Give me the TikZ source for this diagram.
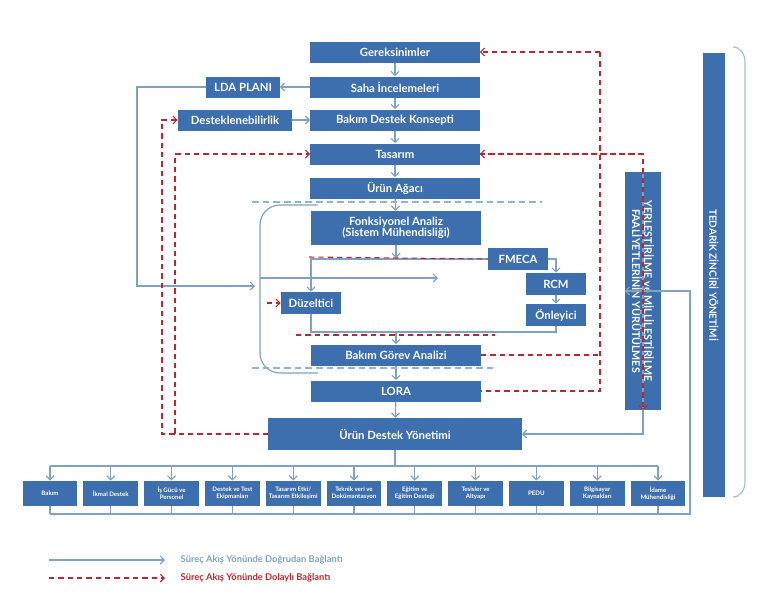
\documentclass[tikz,border=0pt]{standalone}
\usepackage{fontspec}
\setmainfont{Lato}
\usepackage{tikz}
\usetikzlibrary{positioning,arrows.meta}

\definecolor{boxblue}{HTML}{3D6FAE}
\definecolor{linegray}{HTML}{7FA2C4}
\definecolor{dashred}{HTML}{B8282E}
\definecolor{dashblue}{HTML}{8FB4CF}

\tikzset{
  box/.style={fill=boxblue, text=white, font=\bfseries\fontsize{8.5}{9.5}\selectfont,
    inner sep=0pt, minimum height=15.75pt, align=center},
  wide/.style={box, minimum width=127pt},
  small/.style={box, minimum width=45pt, minimum height=16.5pt},
  leaf/.style={box, minimum width=41pt, minimum height=19pt, font=\bfseries\fontsize{4.6}{5.2}\selectfont},
  flow/.style={draw=linegray, line width=0.9pt, -{Straight Barb[length=3pt,width=6pt]}},
  flowline/.style={draw=linegray, line width=0.9pt},
  side/.style={draw=dashred, line width=0.8pt, dash pattern=on 4pt off 3pt, -{Straight Barb[length=3pt,width=6pt]}},
  sideline/.style={draw=dashred, line width=0.8pt, dash pattern=on 4pt off 3pt},
  level/.style={draw=dashblue, line width=0.8pt, dash pattern=on 5pt off 3pt}
}

\begin{document}
\begin{tikzpicture}[x=0.75pt,y=-0.75pt]
\useasboundingbox (0,0) rectangle (758,600);

% main column
\node[wide] (ger) at (395,52) {Gereksinimler};
\node[wide] (saha) at (395,87) {Saha İncelemeleri};
\node[wide] (bdk) at (395,120) {Bakım Destek Konsepti};
\node[wide] (tas) at (395,154) {Tasarım};
\node[wide] (urun) at (395,188) {Ürün Ağacı};
\node[wide, minimum height=25.5pt, font=\bfseries\fontsize{8.5}{8.5}\selectfont] (fon) at (396,228) {Fonksiyonel Analiz\\(Sistem Mühendisliği)};
\node[wide] (bga) at (396,355) {Bakım Görev Analizi};
\node[wide] (lora) at (396,391) {LORA};
\node[box, minimum width=190pt, minimum height=24pt] (ud) at (395,434) {Ürün Destek Yönetimi};

% side boxes
\node[box, minimum width=55pt] (lda) at (243,87) {LDA PLANI};
\node[box, minimum width=85.5pt] (des) at (235,120) {Desteklenebilirlik};
\node[small] (fmeca) at (518,259) {FMECA};
\node[small] (rcm) at (556,284) {RCM};
\node[small] (onl) at (556,315) {Önleyici};
\node[small] (duz) at (311,303) {Düzeltici};
\node[box, minimum width=178pt, minimum height=27pt, rotate=-90, font=\bfseries\fontsize{8}{9}\selectfont] (yer) at (643,291) {YERLEŞTİRİLME ve MİLLİLEŞTİRİLME\\FAALİYETLERİNİN YÜRÜTÜLMES};
\node[box, minimum width=333pt, minimum height=16.5pt, rotate=-90, font=\bfseries\fontsize{7.5}{8}\selectfont] (ted) at (714,275) {TEDARİK ZİNCİRİ YÖNETİMİ};

% bottom row
\foreach \name [count=\i from 0] in {Bakım, İkmal Destek, İş Gücü ve\\Personel, Destek ve Test\\Ekipmanları, Tasarım Etki/\\Tasarım Etkileşimi, Teknik veri ve\\Dokümantasyon, Eğitim ve\\Eğitim Desteği, Tesisler ve\\Altyapı, PEDU, Bilgisayar\\Kaynakları, İdame\\Mühendisliği}
  \node[leaf] (b\i) at (50+60.8*\i,493.5) {\name};

% flow
\draw[flow] (ger) -- (saha);
\draw[flow] (saha) -- (bdk);
\draw[flow] (bdk) -- (tas);
\draw[flow] (tas) -- (urun);
\draw[flow] (urun) -- (fon);
\draw[flow] (fon) -- (396,258);
\draw[flow] (saha) -- (lda);
\draw[flow] (des) -- (bdk);
\draw[flow] (lda.west) -- (137,87) -- (137,286) -- (255,286);
\draw[flow] (fmeca.east) -| (rcm.north);
\draw[flow] (fmeca.west) -| (duz.north);
\draw[flow] (rcm) -- (onl);
\draw[flowline] (onl.south) |- (396,332) -| (duz.south);
\draw[flow] (396,332) -- (bga);
\draw[flow] (bga) -- (lora);
\draw[flow] (lora) -- (ud);
\draw[flowline] (318,205) -- (280,205) to[out=180,in=90] (260,225) -- (260,353) to[out=-90,in=180] (280,373) -- (318,373);
\draw[flow] (260,278) -- (438,278);

% bottom bus
\draw[flowline] (ud) -- (ud.south |- 0,466);
\draw[flowline] (b0.north |- 0,466) -- (b10.north |- 0,466);
\foreach \i in {0,...,10}{
  \draw[flow] (b\i.north |- 0,466) -- (b\i.north);
  \draw[flowline] (b\i.south) -- (b\i.south |- 0,514);
}
\draw[flow] (b0.south |- 0,514) -- (690,514) |- (yer.south);
\draw[flow] (yer.west) |- (ud.east);

% indirect links
\draw[side] (600,52) -- (ger.east);
\draw[sideline] (600,52) -- (600,391) -- (lora.east);
\draw[sideline] (bga.east) -- (600,355);
\draw[side] (643,154) -- (tas.east);
\draw[side] (tas.east) -| (yer.east);
\draw[side] (ud.west) -| (175,154) -- (tas.west);
\draw[side] (ud.west) -| (162,120) -- (des.west);
\draw[side] (267,303) -- (duz.west);
\draw[sideline] (309,257) -- (fmeca.west);
\draw[sideline] (296,335) -- (495,335);

% levels
\draw[level] (252,202) -- (542,202);
\draw[level] (252,368) -- (493,368);

% bracket
\draw[draw=linegray!70, line width=0.9pt] (733,47) to[out=0,in=90] (745,62) -- (745,482) to[out=-90,in=0] (733,497);

% legend
\draw[flow] (49,560) -- (165,560);
\node[anchor=west, text=linegray, font=\bfseries\fontsize{7}{8}\selectfont] (l1) at (176,560) {Süreç Akış Yönünde Doğrudan Bağlantı};
\draw[side] (49,578) -- (165,578);
\node[anchor=west, text=dashred, font=\bfseries\fontsize{7}{8}\selectfont] (l2) at (176,578) {Süreç Akış Yönünde Dolaylı Bağlantı};
\end{tikzpicture}
\end{document}
